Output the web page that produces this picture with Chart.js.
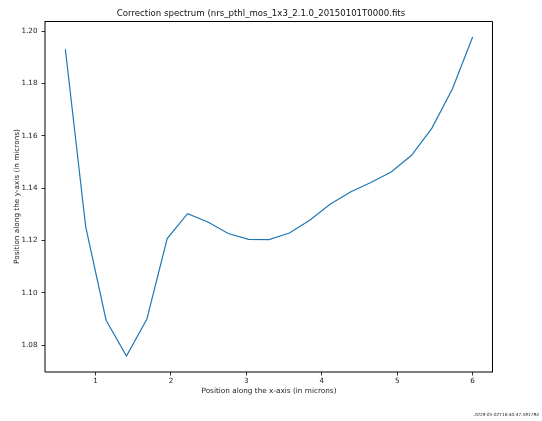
<!DOCTYPE html>
<html>
<head>
<meta charset="utf-8">
<script src="https://cdn.jsdelivr.net/npm/chart.js@4/dist/chart.umd.min.js"></script>
<style>
  html, body { margin: 0; padding: 0; background: #fff; }
  #wrap { width: 542px; height: 421px; position: relative; }
</style>
</head>
<body>
<div id="wrap"><canvas id="chart" width="542" height="421"></canvas></div>
<script>
// wavelength positions (microns) and correction values
const xValues = [0.60, 0.87, 1.14, 1.41, 1.68, 1.95, 2.22, 2.49, 2.76, 3.03, 3.30,
                 3.57, 3.84, 4.11, 4.38, 4.65, 4.92, 5.19, 5.46, 5.73, 6.00];
const yValues = [1.1931, 1.1252, 1.0896, 1.0759, 1.0899, 1.1208, 1.1303, 1.1271, 1.1227, 1.1205, 1.1204,
                 1.1229, 1.1278, 1.1339, 1.1386, 1.1422, 1.1462, 1.1526, 1.1630, 1.1778, 1.1978];
const xTicks = [1, 2, 3, 4, 5, 6];
const yTicks = [1.08, 1.10, 1.12, 1.14, 1.16, 1.18, 1.20];

const titleText = 'Correction spectrum (nrs_pthl_mos_1x3_2.1.0_20150101T0000.fits';
const stampText = '2019-05-02T16:40:47.591794';

const FONT = 'DejaVu Sans';

// frame + title + timestamp, drawn like matplotlib
const framePlugin = {
  id: 'frame',
  afterDraw(chart) {
    const { ctx, chartArea: a } = chart;
    ctx.save();
    ctx.strokeStyle = '#000';
    ctx.lineWidth = 1;
    ctx.beginPath();
    ctx.moveTo(a.left, a.top + 0.5);
    ctx.lineTo(a.right - 0.5, a.top + 0.5);
    ctx.lineTo(a.right - 0.5, a.bottom);
    ctx.stroke();
    ctx.beginPath();
    ctx.moveTo(a.left, a.top);
    ctx.lineTo(a.left, a.bottom);
    ctx.lineTo(a.right, a.bottom);
    ctx.stroke();

    ctx.fillStyle = '#111';
    ctx.font = '8.6px "' + FONT + '"';
    ctx.textAlign = 'center';
    ctx.textBaseline = 'middle';
    ctx.fillText(titleText, 261, 14);

    ctx.font = 'italic 4.3px "' + FONT + '"';
    ctx.textAlign = 'right';
    ctx.fillStyle = '#222';
    ctx.fillText(stampText, 539, 415);
    ctx.restore();
  }
};

new Chart(document.getElementById('chart'), {
  type: 'line',
  data: {
    datasets: [{
      data: xValues.map((x, i) => ({ x: x, y: yValues[i] })),
      borderColor: '#1f77b4',
      borderWidth: 1.2,
      pointRadius: 0,
      tension: 0,
      fill: false
    }]
  },
  options: {
    responsive: false,
    animation: false,
    layout: { padding: { top: 21, right: 49, left: 0, bottom: 0 } },
    plugins: {
      legend: { display: false },
      tooltip: { enabled: false },
      title: { display: false }
    },
    scales: {
      x: {
        type: 'linear',
        min: 0.33,
        max: 6.27,
        afterBuildTicks: (s) => { s.ticks = xTicks.map(v => ({ value: v })); },
        afterFit: (s) => { s.height = 49; },
        grid: { drawOnChartArea: false, drawTicks: true, tickLength: 3.5, color: '#333' },
        border: { display: false },
        ticks: {
          color: '#222',
          padding: 1,
          maxRotation: 0,
          font: { family: FONT, size: 7.2 },
          callback: (v) => String(v)
        },
        title: {
          display: true,
          text: 'Position along the x-axis (in microns)',
          color: '#222',
          font: { family: FONT, size: 7.3 },
          padding: { top: 0, bottom: 26 }
        }
      },
      y: {
        type: 'linear',
        min: 1.0698,
        max: 1.2039,
        afterBuildTicks: (s) => { s.ticks = yTicks.map(v => ({ value: v })); },
        afterFit: (s) => { s.width = 45; },
        grid: { drawOnChartArea: false, drawTicks: true, tickLength: 3.5, color: '#333' },
        border: { display: false },
        ticks: {
          color: '#222',
          padding: 4,
          font: { family: FONT, size: 7.2 },
          callback: (v) => Number(v).toFixed(2)
        },
        title: {
          display: true,
          text: 'Position along the y-axis (in microns)',
          color: '#222',
          font: { family: FONT, size: 7.3 },
          padding: { top: 12.3, bottom: 0 }
        }
      }
    }
  },
  plugins: [framePlugin]
});
</script>
</body>
</html>
